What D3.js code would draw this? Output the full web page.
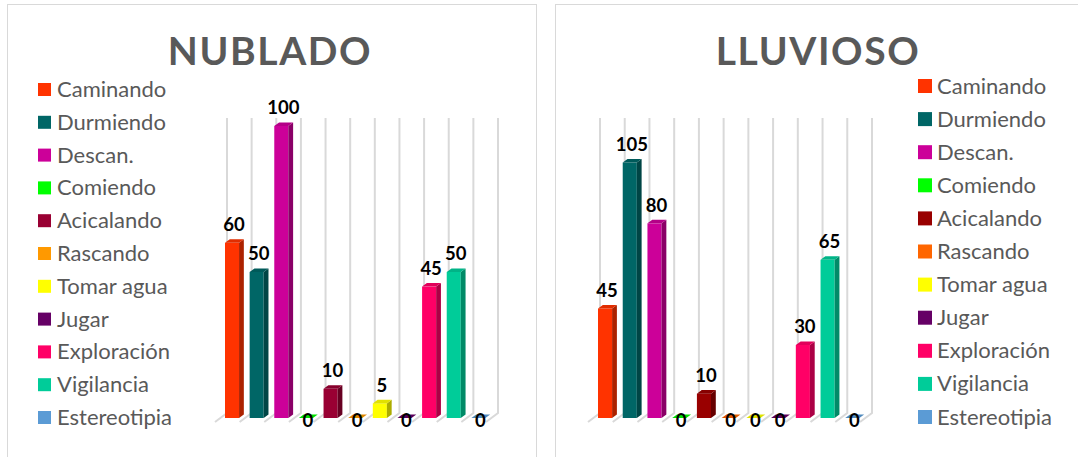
<!DOCTYPE html>
<html>
<head>
<meta charset="utf-8">
<script src="https://cdn.jsdelivr.net/npm/d3@7"></script>
<style>
  html, body { margin: 0; padding: 0; background: #ffffff; }
  svg { display: block; }
</style>
</head>
<body>
<svg id="chart" width="1078" height="457"></svg>
<script>
// Behaviour categories shared by both weather conditions
const categories = ["Caminando", "Durmiendo", "Descan.", "Comiendo", "Acicalando", "Rascando",
  "Tomar agua", "Jugar", "Exploración", "Vigilancia", "Estereotipia"];

// Counts per behaviour
const nubladoValues = [60, 50, 100, 0, 10, 0, 5, 0, 45, 50, 0];
const lluviosoValues = [45, 105, 80, 0, 10, 0, 0, 0, 30, 65, 0];

// Series colours (two behaviours differ between the panels)
const nubladoColors = ["#FF3300", "#006666", "#CC0099", "#00FF00", "#990033", "#FF9900",
  "#FFFF00", "#660066", "#FF0066", "#00CC99", "#5B9BD5"];
const lluviosoColors = ["#FF3300", "#006666", "#CC0099", "#00FF00", "#990000", "#FF6600",
  "#FFFF00", "#660066", "#FF0066", "#00CC99", "#5B9BD5"];

// Value-axis maxima of each panel
const nubladoMax = 100;
const lluviosoMax = 120;

const svg = d3.select("#chart");

const panels = [
  { title: "NUBLADO", values: nubladoValues, colors: nubladoColors, max: nubladoMax,
    frameX: 7.5, frameW: 529, titleX: 270,
    legendX: 38, legendY: 89.5, legendStep: 32.8, sq: 13, textGap: 6,
    gridX0: 227, gridX1: 498 },
  { title: "LLUVIOSO", values: lluviosoValues, colors: lluviosoColors, max: lluviosoMax,
    frameX: 555.5, frameW: 540, titleX: 818,
    legendX: 918, legendY: 86, legendStep: 33.1, sq: 14, textGap: 5,
    gridX0: 600, gridX1: 872 }
];

// 3D geometry of the plot box
const wallTop = 118;      // top of back-wall gridlines
const wallBottom = 413;   // where the back wall meets the floor
const floorDepth = [-12, 9]; // back-to-front offset of the floor
const barBase = 418;      // front face baseline of the columns
const barTop = 126;       // pixel of the axis maximum on the front face
const barDepth = [4.8, -3.6]; // front-to-back offset of a column
const gridColor = "#d9d9d9";

panels.forEach(p => {
  const g = svg.append("g");

  // chart area frame
  g.append("rect")
    .attr("x", p.frameX).attr("y", 4.5)
    .attr("width", p.frameW).attr("height", 480)
    .attr("fill", "#ffffff")
    .attr("stroke", gridColor).attr("stroke-width", 1);

  // title
  g.append("text")
    .attr("x", p.titleX).attr("y", 65)
    .attr("text-anchor", "middle")
    .attr("font-family", "Lato, 'Open Sans', sans-serif")
    .attr("font-weight", 700)
    .attr("font-size", 39)
    .attr("letter-spacing", 1.6)
    .attr("fill", "#595959")
    .text(p.title);

  // scales
  const x = d3.scaleBand().domain(categories).range([p.gridX0, p.gridX1]).padding(0);
  const y = d3.scaleLinear().domain([0, p.max]).range([barBase, barTop]);

  // back-wall vertical gridlines at every band edge, with the floor diagonal
  const edges = categories.map(c => x(c)).concat([p.gridX1]);
  g.append("g").selectAll("path").data(edges).join("path")
    .attr("d", e => `M${e},${wallTop} L${e},${wallBottom} L${e + floorDepth[0]},${wallBottom + floorDepth[1]}`)
    .attr("fill", "none")
    .attr("stroke", gridColor)
    .attr("stroke-width", 2);

  // columns
  const barW = x.bandwidth() * 0.57;
  const rows = categories.map((c, i) => ({ cat: c, value: p.values[i], color: p.colors[i] }));
  const bars = g.append("g").selectAll("g").data(rows).join("g");

  bars.each(function(d) {
    const bg = d3.select(this);
    const xl = x(d.cat) - 2;
    const xr = xl + barW;
    const yt = y(d.value);
    const [dx, dy] = barDepth;
    const base = d3.color(d.color);
    if (d.value > 0) {
      // front face
      bg.append("rect")
        .attr("x", xl).attr("y", yt)
        .attr("width", barW).attr("height", barBase - yt)
        .attr("fill", base.formatHex());
      // side face
      bg.append("path")
        .attr("d", `M${xr},${barBase} L${xr + dx},${barBase + dy} L${xr + dx},${yt + dy} L${xr},${yt} Z`)
        .attr("fill", base.darker(1.1).formatHex());
    }
    // top face
    bg.append("path")
      .attr("d", `M${xl},${yt} L${xr},${yt} L${xr + dx},${yt + dy} L${xl + dx},${yt + dy} Z`)
      .attr("fill", base.darker(0.35).formatHex());
  });

  // value labels
  g.append("g").selectAll("text").data(rows).join("text")
    .attr("x", d => x(d.cat) - 2 + barW / 2 + 2)
    .attr("y", d => d.value > 0 ? y(d.value) + barDepth[1] - 8 : barBase + 9)
    .attr("text-anchor", "middle")
    .attr("font-family", "Lato, 'Open Sans', sans-serif")
    .attr("font-weight", 700)
    .attr("font-size", 18.5)
    .attr("fill", "#000000")
    .text(d => d.value);

  // legend
  const leg = g.append("g").selectAll("g").data(rows).join("g")
    .attr("transform", (d, i) => `translate(${p.legendX},${p.legendY + i * p.legendStep})`);
  leg.append("rect")
    .attr("x", 0).attr("y", -p.sq / 2)
    .attr("width", p.sq).attr("height", p.sq)
    .attr("fill", d => d.color);
  leg.append("text")
    .attr("x", p.sq + p.textGap).attr("y", 7.5)
    .attr("font-family", "Lato, 'Open Sans', sans-serif")
    .attr("font-size", 22)
    .attr("fill", "#595959")
    .text(d => d.cat);
});
</script>
</body>
</html>
